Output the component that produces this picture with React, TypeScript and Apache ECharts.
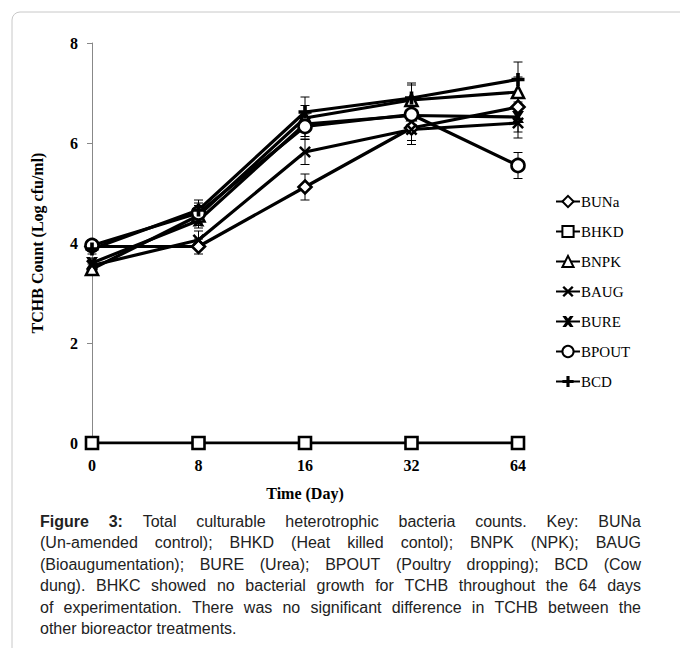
import React, { useEffect, useRef } from "react";
import * as echarts from "echarts";

const days = ["0", "8", "16", "32", "64"];
const yTicks = [0, 2, 4, 6, 8];

const BUNa = [3.93, 3.93, 5.12, 6.3, 6.72];
const BHKD = [0, 0, 0, 0, 0];
const BNPK = [3.48, 4.55, 6.5, 6.86, 7.02];
const BAUG = [3.55, 4.06, 5.82, 6.27, 6.4];
const BURE = [3.6, 4.45, 6.38, 6.55, 6.52];
const BPOUT = [3.95, 4.6, 6.33, 6.57, 5.55];
const BCD = [3.88, 4.66, 6.62, 6.9, 7.27];

const BUNa_err = [0.08, 0.15, 0.26, 0.25, 0.25];
const BHKD_err = [0, 0, 0, 0, 0];
const BNPK_err = [0.1, 0.2, 0.25, 0.3, 0.3];
const BAUG_err = [0.1, 0.18, 0.25, 0.3, 0.3];
const BURE_err = [0.1, 0.15, 0.25, 0.3, 0.3];
const BPOUT_err = [0.12, 0.2, 0.25, 0.3, 0.26];
const BCD_err = [0.1, 0.2, 0.3, 0.3, 0.35];

const captionLines = [
  "Figure 3: Total culturable heterotrophic bacteria counts. Key: BUNa",
  "(Un-amended control); BHKD (Heat killed contol); BNPK (NPK); BAUG",
  "(Bioaugumentation); BURE (Urea); BPOUT (Poultry dropping); BCD (Cow",
  "dung). BHKC showed no bacterial growth for TCHB throughout the 64 days",
  "of experimentation. There was no significant difference in TCHB between the",
  "other bioreactor treatments.",
];

const XPATH = "path://M1.5,0L5,3.5L8.5,0L10,1.5L6.5,5L10,8.5L8.5,10L5,6.5L1.5,10L0,8.5L3.5,5L0,1.5Z";
const BOLDX = "path://M0,0L3.2,0L5,2.4L6.8,0L10,0L6.7,5L10,10L6.8,10L5,7.6L3.2,10L0,10L3.3,5Z";
const PLUS = "path://M3.6,0H6.4V3.6H10V6.4H6.4V10H3.6V6.4H0V3.6H3.6Z";

const SERIF = "Liberation Serif";
const SANS = "Liberation Sans";

export default function App() {
  const ref = useRef<HTMLDivElement>(null);
  useEffect(() => {
    if (!ref.current) return;
    const chart = echarts.init(ref.current, null, { renderer: "svg" });

    const defs = [
      { name: "BUNa", data: BUNa, err: BUNa_err, symbol: "diamond", size: 13, hollow: true },
      { name: "BHKD", data: BHKD, err: BHKD_err, symbol: "rect", size: 12, hollow: true },
      { name: "BNPK", data: BNPK, err: BNPK_err, symbol: "triangle", size: 12, hollow: true },
      { name: "BAUG", data: BAUG, err: BAUG_err, symbol: XPATH, size: 12, hollow: false },
      { name: "BURE", data: BURE, err: BURE_err, symbol: BOLDX, size: 12, hollow: false },
      { name: "BPOUT", data: BPOUT, err: BPOUT_err, symbol: "circle", size: 13, hollow: true },
      { name: "BCD", data: BCD, err: BCD_err, symbol: PLUS, size: 13, hollow: false },
    ];

    const errData: number[][] = [];
    defs.forEach((d) =>
      d.data.forEach((v, i) => {
        if (d.err[i] > 0) errData.push([i, v - d.err[i], v + d.err[i]]);
      })
    );

    const lineSeries = defs.map((d) => ({
      name: d.name,
      type: "line",
      data: d.data,
      symbol: d.symbol,
      symbolSize: d.size,
      showAllSymbol: true,
      lineStyle: { color: "#000", width: 3.2 },
      itemStyle: d.hollow
        ? { color: "#fff", borderColor: "#000", borderWidth: 2.6 }
        : { color: "#000", borderWidth: 0 },
      z: 3,
    }));

    const errSeries = {
      type: "custom",
      name: "err",
      z: 1,
      data: errData,
      encode: { x: 0, y: [1, 2] },
      renderItem: (params: any, api: any) => {
        const lo = api.coord([api.value(0), api.value(1)]);
        const hi = api.coord([api.value(0), api.value(2)]);
        const w = 4.5;
        const st = { stroke: "#000", lineWidth: 1 };
        return {
          type: "group",
          children: [
            { type: "line", shape: { x1: lo[0], y1: lo[1], x2: hi[0], y2: hi[1] }, style: st },
            { type: "line", shape: { x1: lo[0] - w, y1: lo[1], x2: lo[0] + w, y2: lo[1] }, style: st },
            { type: "line", shape: { x1: hi[0] - w, y1: hi[1], x2: hi[0] + w, y2: hi[1] }, style: st },
          ],
        };
      },
    };

    // caption, justified
    const canvas = document.createElement("canvas");
    const ctx = canvas.getContext("2d")!;
    const capFont = 16;
    const left = 40;
    const right = 641;
    const lineTop = 521;
    const lineH = 21.5;
    const capEls: any[] = [];
    captionLines.forEach((line, li) => {
      const words = line.split(" ");
      const isBold = (wi: number) => li === 0 && wi < 2;
      const widths = words.map((w, wi) => {
        ctx.font = `${isBold(wi) ? "bold " : ""}${capFont}px "${SANS}"`;
        return ctx.measureText(w).width;
      });
      const total = widths.reduce((a, b) => a + b, 0);
      const justify = li < captionLines.length - 1;
      ctx.font = `${capFont}px "${SANS}"`;
      const space = ctx.measureText(" ").width;
      const gap = justify && words.length > 1 ? (right - left - total) / (words.length - 1) : space;
      let x = left;
      words.forEach((w, wi) => {
        capEls.push({
          type: "text",
          x,
          y: lineTop + li * lineH,
          style: {
            text: w,
            fill: "#222",
            font: `${isBold(wi) ? "bold " : ""}${capFont}px "${SANS}"`,
            textVerticalAlign: "middle",
          },
        });
        x += widths[wi] + gap;
      });
    });

    chart.setOption({
      animation: false,
      backgroundColor: "#fff",
      grid: { left: 92, top: 43, width: 426, height: 400, containLabel: false },
      legend: {
        orient: "vertical",
        left: 550,
        top: 189,
        itemGap: 15,
        itemWidth: 24,
        itemHeight: 14,
        data: defs.map((d) => d.name),
        textStyle: { fontFamily: SERIF, fontSize: 15, color: "#000", padding: [0, 0, 0, -4] },
      },
      xAxis: {
        type: "category",
        data: days,
        boundaryGap: false,
        axisLine: { lineStyle: { color: "#888" } },
        axisTick: { show: false },
        axisLabel: { fontFamily: SERIF, fontSize: 16, fontWeight: "bold", color: "#000", margin: 14 },
        name: "Time (Day)",
        nameLocation: "middle",
        nameGap: 42,
        nameTextStyle: { fontFamily: SERIF, fontSize: 16, fontWeight: "bold", color: "#000" },
      },
      yAxis: {
        type: "value",
        min: yTicks[0],
        max: yTicks[yTicks.length - 1],
        interval: 2,
        axisLine: { show: true, lineStyle: { color: "#888" } },
        axisTick: { show: true, length: 5, lineStyle: { color: "#888" } },
        splitLine: { show: false },
        axisLabel: { fontFamily: SERIF, fontSize: 16, fontWeight: "bold", color: "#000", margin: 14 },
        name: "TCHB Count (Log cfu/ml)",
        nameLocation: "middle",
        nameGap: 47,
        nameTextStyle: { fontFamily: SERIF, fontSize: 16, fontWeight: "bold", color: "#000" },
      },
      graphic: [
        { type: "line", shape: { x1: 20, y1: 12, x2: 680, y2: 12 }, style: { stroke: "#c8c8c8", lineWidth: 1 } },
        { type: "line", shape: { x1: 12, y1: 20, x2: 12, y2: 648 }, style: { stroke: "#c8c8c8", lineWidth: 1 } },
        {
          type: "arc",
          shape: { cx: 20, cy: 20, r: 8, startAngle: Math.PI, endAngle: Math.PI * 1.5 },
          style: { stroke: "#c8c8c8", lineWidth: 1, fill: "none" },
        },
        ...capEls,
      ],
      series: [errSeries, ...lineSeries],
    });
    return () => chart.dispose();
  }, []);
  return (
    <div
      ref={ref}
      style={{ position: "absolute", left: 0, top: 0, width: 680, height: 660, background: "#fff" }}
    />
  );
}
